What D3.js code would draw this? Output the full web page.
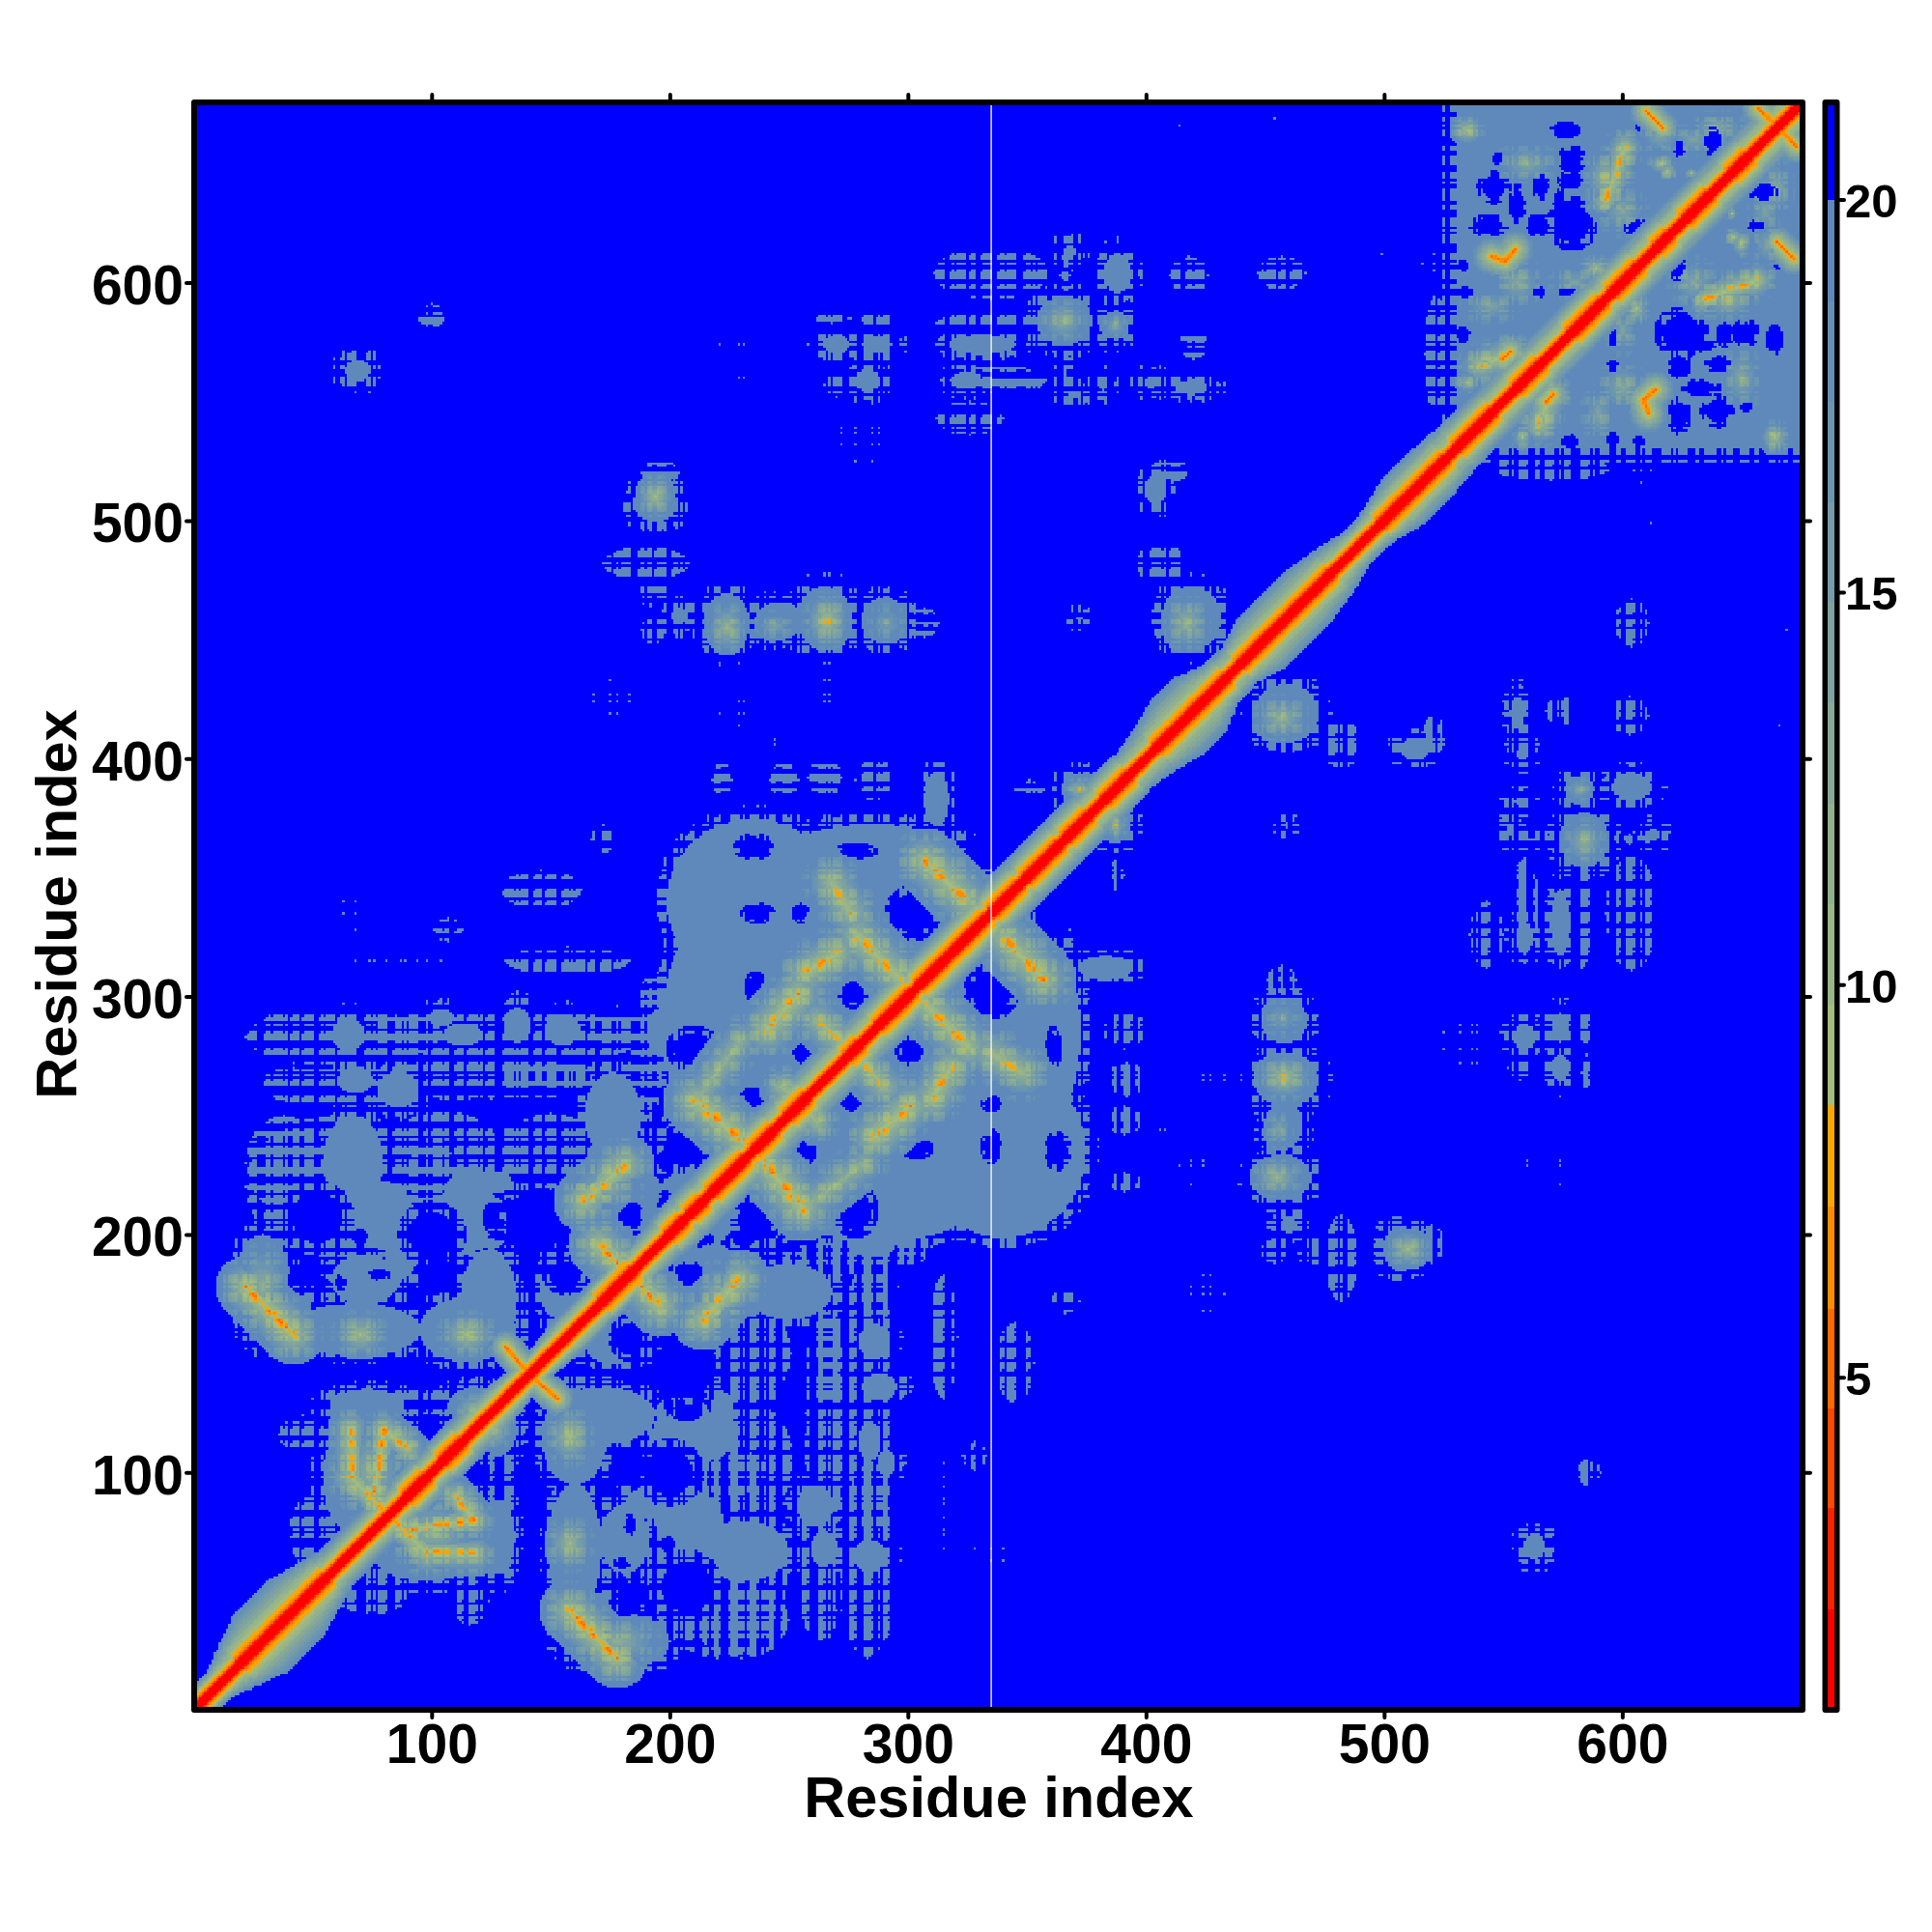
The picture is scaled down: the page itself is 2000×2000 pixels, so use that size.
<!DOCTYPE html>
<html><head><meta charset="utf-8">
<script src="https://cdn.jsdelivr.net/npm/d3@7/dist/d3.min.js"></script>
<style>html,body{margin:0;padding:0;background:#fff}svg{display:block}text{font-family:"Liberation Sans",Arial,sans-serif;font-weight:700;fill:#000}</style>
</head><body><svg id="c" width="2000" height="2000"></svg>
<script>
// ---- axis content ----
const residueTicks=[100,200,300,400,500,600];
const colorTicks=[5,10,15,20];
const axisTitle="Residue index";
const residueDomain=[1.5,674.5];
const maskedColumn=[335];
// ---- colour key ----
const levelBreaks=[2.04,3.33,4.6,5.87,7.17,8.46,9.74,11.02,12.3,13.58,14.86,16.14,17.42,18.7,20];
const levelColors=["#ff0000","#fb2200","#ff4800","#ff6a00","#ff8c00","#ffa500","#a3bd7e","#9ab686","#90b08f","#87a997","#7ea2a0","#759ca8","#6c95b1","#6590b5","#5e89ba","#0000ff"];
const barDomain=[0.8,21.2];
// ---- diagonal band, read along the diagonal: [from, to, reach] ----
const diagReach=[[1,12,10],[12,20,11],[20,53,23],[53,135,14],[135,150,9],[150,200,13],[200,335,16],[335,395,16],[395,405,14],[405,432,22],[432,440,9],[440,478,20],[478,490,15],[490,500,10],[500,530,18],[530,545,16],[545,675,16]];
const diagNarrow=[1.4,1.4,1.5,4,6.8,8.2];
const diagWide=[1.4,1.4,1.5,3.2,5.5,6.8,7.8,8.3];
const diagWideSpans=[[20,50],[50,56],[90,98],[105,113],[172,185],[200,206],[209,214],[218,232],[236,244],[250,258],[275,280],[288,302],[305,311],[311,325],[325,333],[336,347],[350,364],[367,376],[383,393],[405,434],[440,478],[499,526],[531,546],[556,566],[579,592],[596,607],[615,620],[627,637],[646,653]];
// ---- contact regions above the diagonal: [x, y, rx, ry, kind]
//      kind 0 solid, 1 hatched, 2 scattered, 3 nearly solid, 4 row streaks ----
const fillAreas=[
[29,178,13,24,0],[42,165,10,12,0],[68,160,30,12,0],[115,160,22,15,0],[124,172,13,24,0],[122,205,10,14,3],
[67,231,14,21,0],[80,208,14,16,0],[38,230,16,20,3],[72,181,16,12,0],[87,190,8,10,0],[115,210,12,20,0],[125,222,11,6,0],
[100,225,10,16,3],[140,238,16,8,1],[153,177,9,14,0],[176,250,13,20,0],
[60,220,38,30,4],[105,230,26,22,4],[150,235,20,16,4],[60,283,38,12,4],[130,283,60,12,4],[60,262,32,8,4],[125,265,60,8,4],[95,130,40,6,4],
[65,284,8,9,0],[42,283,18,11,1],[90,285,14,9,3],[104,291,7,5,0],[113,284,10,6,0],[136,288,7,9,0],[155,286,9,8,0],[178,288,14,8,3],[197,285,8,12,0],
[68,265,9,7,0],[86,261,10,9,0],[42,263,14,7,1],[110,264,14,8,1],[137,266,8,6,3],[155,266,12,6,3],
[146,345,17,8,4],[157,315,26,6,4],[67,335,5,10,2],[107,328,6,5,4],[85,314,20,5,2],[172,366,5,6,1],[175,425,10,8,2],
[285,288,90,86,0],[235,340,38,36,0],[222,232,28,28,0],[178,215,22,16,0],[190,270,7,22,3],[195,300,8,10,3],[312,383,6,14,0],[384,313,14,6,0],
[75,98,22,30,0],[73,128,18,8,0],[118,128,13,9,0],[46,116,10,8,4],[50,75,10,15,4],[100,130,8,5,1],
[194,507,11,9,0],[196,520,8,6,3],[190,482,18,7,4],[193,471,3,3,0],[204,460,5,5,0],[193,454,5,6,1],
[224,457,11,14,0],[246,458,12,9,0],[265,459,13,15,0],[290,458,11,11,0],[307,457,6,6,3],[372,459,3,2,0],
[419,459,14,15,0],[406,482,10,9,4],[404,513,6,8,0],[410,521,8,6,3],
[270,574,7,5,0],[287,574,8,5,0],[283,559,7,6,0],[270,557,5,5,1],[331,574,16,5,0],[338,559,20,6,3],[325,559,8,5,0],
[366,584,13,12,0],[386,582,7,7,0],[388,604,7,10,0],[368,613,4,4,0],[366,603,2,10,3],[335,604,24,11,4],[336,583,24,5,4],
[366,562,2,4,0],[370,553,4,3,0],[382,557,3,4,0],[402,558,4,4,0],[419,556,9,4,0],[420,574,6,6,3],[418,603,8,8,4],
[268,585,8,2,4],[287,585,8,3,4],[280,533,11,9,2],[326,543,14,7,4],[227,575,8,3,2],[231,559,6,4,2],[227,420,7,7,2],[264,428,4,8,2],
[248,391,6,8,3],[265,392,7,9,3],[286,391,8,9,4],[222,391,4,7,3],[246,409,4,4,2],[351,387,6,4,3],
[100,586,6,5,3],[69,563,7,6,0],[457,604,10,7,4],[497,611,4,3,2],[521,608,5,5,2],[415,667,3,2,2],[453,668,2,2,2],[522,570,5,25,4],[372,387,9,8,0]
];
const fillBoxes=[[530,530,675,675]];
// ---- blue gaps inside the regions: [x, y, rx, ry] ----
const gapAreas=[
[237,335,6,4],[255,335,3,4],[302,335,10,10],[276,332,3,3],[236,304,4,6],[277,302,6,6],[256,279,4,6],[210,278,10,8],[235,257,5,4],[206,236,10,9],
[235,363,7,5],[278,361,8,3],[333,361,11,9],[198,231,4,6],[183,208,5,5],[198,214,3,4],[156,183,8,7],
[78,183,4,2],[43,181,4,3],[54,180,4,3],[62,180,2,3],[52,207,13,13],[100,200,12,12],[150,207,10,10],[125,207,3,6],[69,199,4,3],[88,101,3,2],
[576,664,6,3],[579,652,5,5],[578,643,5,3],[546,640,6,6],[566,640,3,5],[556,633,3,7],[574,635,2,4],[579,625,9,10],[544,624,7,4],[565,624,5,4],[606,623,5,3],
[624,656,2,3],[606,664,2,2],[638,659,3,6],[548,652,2,2],[533,607,2,2],[577,596,3,2],[565,596,2,2],[534,596,3,2],[533,578,3,3]
];
// ---- close-contact clusters: [x, y, rx, ry, lowest value] ----
const clusterAreas=[
[29,178,12,20,8.5],[70,158,13,11,7],[115,158,14,11,6.5],[75,100,17,24,8.5],[118,127,11,7,8],[173,220,18,12,9],
[224,455,9,12,7.5],[244,456,9,7,11],[266,458,11,13,6],[291,457,9,9,12],[194,510,9,10,7],[417,457,11,13,8],[365,584,11,10,9],[387,582,6,6,10],[372,387,7,6,7.5],
[535,664,8,7,6],[593,644,10,14,7.5],[616,650,6,5,6.5],[629,646,3,3,6.5],[543,566,6,5,6.5],[535,558,6,5,7],[589,606,8,6,6.5],[619,647,5,5,6.5],
[616,662,10,9,10],[560,650,15,10,10.5],[630,660,12,8,11],[580,600,12,8,11],[556,600,12,12,10],[600,630,12,12,10.5],[545,590,14,8,11],[640,665,14,8,10.5],[640,660,6,6,10]
];
// ---- contact ridges: [x0, y0, x1, y1, reach, lowest value, continuous] ----
const ridgeLines=[
[268,348,276,335,13,7,0],[279,325,296,308,14,6,0],[307,357,324,341,14,5.8,0],[241,286,254,301,14,5.8,0],[257,310,270,318,13,6,0],
[211,256,232,238,14,5.5,0],[211,256,230,282,11,9,0],[262,290,276,277,12,7,0],[247,262,256,254,10,7,0],[164,214,181,229,13,6,0],[170,196,182,184,13,5.5,0],
[22,178,42,158,13,5.5,0],[76,92,80,118,9,5.5,0],[80,118,90,110,9,5.5,0],[66,98,82,82,11,6,0],[66,118,67,98,10,6.5,0],
[131,153,141,141,7,5,1],[657,673,666,665,7,5,1],[610,672,617,665,7,5,1],[593,634,601,657,9,6,0],[545,611,551,609,8,5,1],[551,609,555,614,8,5,1],[540,565,553,570,10,6,0],[550,568,553,571,7,5,1]
];
// ---- residues whose rows and columns drop out in thin areas ----
const thinResidues=[2,3,6,10,11,12,14,19,20,23,27,28,29,30,33,38,40,41,45,46,51,52,53,55,60,61,64,69,70,71,72,75,77,82,83,84,88,90,95,96,97,99,100,105,108,109,110,114,115,120,122,123,127,128,129,130,135,137,141,142,143,147,148,153,154,155,158,160,165,166,169,170,171,176,177,179,184,185,186,187,190,193,194,199,200,201,204,206,211,212,213,217,218,222,223,224,225,230,232,233,238,239,241,245,246,247,252,253,255,259,260,261,262,266,268,273,274,275,279,280,281,286,287,289,293,294,295,296,300,304,305,306,309,310,316,317,318,320,325,326,329,330,331,336,337,338,341,346,347,348,349,352,354,359,360,363,364,365,370,371,373,377,378,379,384,385,386,389,390,395,396,399,400,401,402,407,409,410,415,416,417,420,425,426,428,429,434,435,436,441,442,443,444,448,450,455,456,459,460,461,466,467,469,473,474,475,476,481,483,484,489,490,491,494,495,500,501,503,508,509,510,511,515,517,522,523,526,527,528,533,534,535,538,540,545,546,547,548,553,555,556,561,562,563,566,567,572,573,575,579,580,581,582,587,589,590,595,596,597,600,601,606,607,609,613,614,615,616,621,623,628,629,630,633,634,640,641,643,647,648,649,654,655,658,659,660,661,665,667,670,671];

const x=d3.scaleLinear().domain(residueDomain).range([204,1863]);
const y=d3.scaleLinear().domain(residueDomain).range([1767,109]);
const colorOf=d3.scaleThreshold().domain(levelBreaks).range(levelColors);
const barY=d3.scaleLinear().domain(barDomain).range([1767,109]);
const svg=d3.select("#c");

const N=675;
const thin=new Uint8Array(N+3);thinResidues.forEach(r=>thin[r]=1);
const rawReach=new Float32Array(N+3);diagReach.forEach(([a,b,h])=>{for(let k=a;k<=b;k++)rawReach[k]=h;});
const reach=new Float32Array(N+3);
for(let k=1;k<=N;k++){let s=0,n=0;for(let q=k-8;q<=k+8;q++){if(q>=1&&q<=N){s+=rawReach[q];n++;}}reach[k]=s/n;}
const wide=new Uint8Array(N+3);diagWideSpans.forEach(([a,b])=>{for(let k=a;k<=b;k++)wide[k]=1;});

function segDist(px,py,s){const dx=s[2]-s[0],dy=s[3]-s[1],l=dx*dx+dy*dy;
 let t=l?((px-s[0])*dx+(py-s[1])*dy)/l:0;t=Math.max(0,Math.min(1,t));
 return Math.hypot(px-s[0]-t*dx,py-s[1]-t*dy);}
function cellValue(i,j){ // i<j : x=i, y=j
 const th=thin[i]||thin[j];
 let v=Infinity;
 for(const f of fillAreas){
  const r=Math.hypot((i-f[0])/f[2],(j-f[1])/f[3]);
  const k=f[4];
  if(k===0){
   const m=(f[2]+f[3])/2;
   if(r<1-1.5/m||(r<1+2.5/m&&!th)) v=19;
   else if(r<1+4.5/m&&!thin[j]&&!thin[i]&&thin[i+1]) v=19;
  }
  else if(r>1) continue;
  else if(k===1){ if(!th) v=19; }
  else if(k===2){ if(!th&&thin[i+1]&&thin[j+1]) v=19; }
  else if(k===3){ if(!(thin[i]&&thin[j])&&!thin[j+1]) v=19; }
  else if(k===4){ if(!thin[j]&&!(thin[i]&&thin[i+1])&&!(thin[j+1]&&thin[i])) v=19; }
 }
 for(const b of fillBoxes){
  if(i>=b[0]-5&&j>=b[1]-5&&i<=b[2]&&j<=b[3]){
   const e=Math.min(i-b[0],j-b[1]);
   if(e>0||(!thin[j]&&!(thin[i]&&thin[i+1]))) v=19;
  }
 }
 let plaid=false;
 for(const c of clusterAreas){
  const r=Math.hypot((i-c[0])/c[2],(j-c[1])/c[3]);
  if(r<1){const w=c[4]+(19-c[4])*Math.pow(r,0.8); if(w<v){v=w;plaid=true;}}
 }
 for(const g of gapAreas){
  const r=Math.hypot((i-g[0])/g[2],(j-g[1])/g[3]);
  if(r<0.82||(r<1.2&&th)){v=Infinity;plaid=false;}
 }
 for(const s of ridgeLines){
  const d=segDist(i,j,s);
  if(d<s[4]){
   const w=s[5]+(19-s[5])*Math.pow(d/s[4],0.8);
   if(s[6]){ if(w<v){v=w;plaid=false;} }
   else { const w2=Math.min(19,w+(th?2.8:0)); if(w2<v){v=w2;plaid=false;} }
  }
 }
 if(plaid&&th) v=Math.min(19,v+2.6);
 // diagonal band
 const d=j-i, m=Math.round((i+j)/2);
 const prof=wide[m]?diagWide:diagNarrow;
 let dv=Infinity;
 if(d<prof.length) dv=prof[d];
 else if(d<=reach[m]) dv=9+10*(d-prof.length)/Math.max(1,reach[m]-prof.length);
 return Math.min(v,dv);
}
// build matrix, mirror across the diagonal
const first=2,last=674,size=last-first+1;
const mat=new Float32Array(size*size).fill(Infinity);
for(let i=first;i<=last;i++)for(let j=i;j<=last;j++){
 const v=cellValue(i,j);
 mat[(i-first)*size+(j-first)]=v;mat[(j-first)*size+(i-first)]=v;
}
// run-merged path per colour level
const paths=new Map(levelColors.map(c=>[c,d3.path()]));
const bandL=i=>x(i-0.5), bandT=j=>y(j+0.5);
for(let j=first;j<=last;j++){
 let start=first,cur=colorOf(mat[j-first]);
 for(let i=first+1;i<=last+1;i++){
  const c=i<=last?colorOf(mat[(i-first)*size+(j-first)]):null;
  if(c!==cur){
   if(cur!=="#0000ff"&&mat[(start-first)*size+(j-first)]!==Infinity){
    paths.get(cur).rect(bandL(start),bandT(j),bandL(i)-bandL(start),y(j-0.5)-y(j+0.5));
   }
   start=i;cur=c;
  }
 }
}
svg.append("rect").attr("x",204).attr("y",109).attr("width",1659).attr("height",1658).attr("fill","#0000ff");
svg.append("g").attr("shape-rendering","crispEdges").selectAll("path").data(levelColors.filter(c=>c!=="#0000ff")).join("path")
 .attr("fill",d=>d).attr("d",d=>paths.get(d).toString());
svg.selectAll("line.mask").data(maskedColumn).join("line").attr("class","mask")
 .attr("x1",d=>x(d)).attr("x2",d=>x(d)).attr("y1",109).attr("y2",1767).attr("stroke","#f4f4f4").attr("stroke-width",1.4);

// frame
const frame=svg.append("g").attr("fill","none").attr("stroke","#000").attr("stroke-width",6).attr("stroke-linejoin","round");
frame.append("rect").attr("x",201).attr("y",106).attr("width",1665).attr("height",1664);

function styleAxis(g,size){
 g.select(".domain").remove();
 g.selectAll(".tick line").attr("stroke","#000").attr("stroke-width",4).attr("stroke-linecap","round");
 g.selectAll(".tick text").attr("font-size",size).attr("font-weight",700).attr("font-family",'"Liberation Sans",Arial,sans-serif').attr("fill","#000");
}
const ax=svg.append("g").attr("transform","translate(0,1773)").call(d3.axisBottom(x).tickValues(residueTicks).tickSize(5).tickPadding(0));
styleAxis(ax,57);ax.selectAll(".tick text").attr("y",52).attr("dy",0);
const ay=svg.append("g").attr("transform","translate(198,0)").call(d3.axisLeft(y).tickValues(residueTicks).tickSize(5).tickPadding(0));
styleAxis(ay,57);ay.selectAll(".tick text").attr("x",-8).attr("dy",22);
const at=svg.append("g").attr("transform","translate(0,103)").call(d3.axisTop(x).tickValues(residueTicks).tickSize(5).tickFormat(""));styleAxis(at,10);
const ar=svg.append("g").attr("transform","translate(1869,0)").call(d3.axisRight(y).tickValues(residueTicks).tickSize(5).tickFormat(""));styleAxis(ar,10);

svg.append("text").attr("x",1034).attr("y",1881).attr("text-anchor","middle").attr("font-size",59.5).text(axisTitle);
svg.append("text").attr("transform","translate(79,936) rotate(-90)").attr("text-anchor","middle").attr("font-size",59.5).text(axisTitle);

// colour bar
const barEdges=[barDomain[0],...levelBreaks,barDomain[1]];
svg.append("g").attr("shape-rendering","crispEdges").selectAll("rect").data(levelColors).join("rect")
 .attr("x",1892).attr("width",7).attr("fill",d=>d)
 .attr("y",(d,i)=>barY(barEdges[i+1])).attr("height",(d,i)=>barY(barEdges[i])-barY(barEdges[i+1]));
frame.append("rect").attr("x",1889.5).attr("y",106).attr("width",12).attr("height",1664);
const ab=svg.append("g").attr("transform","translate(1904,0)").call(d3.axisRight(barY).tickValues(colorTicks).tickSize(5).tickPadding(0));
styleAxis(ab,49);ab.selectAll(".tick text").attr("x",6).attr("dy",18);
</script></body></html>
